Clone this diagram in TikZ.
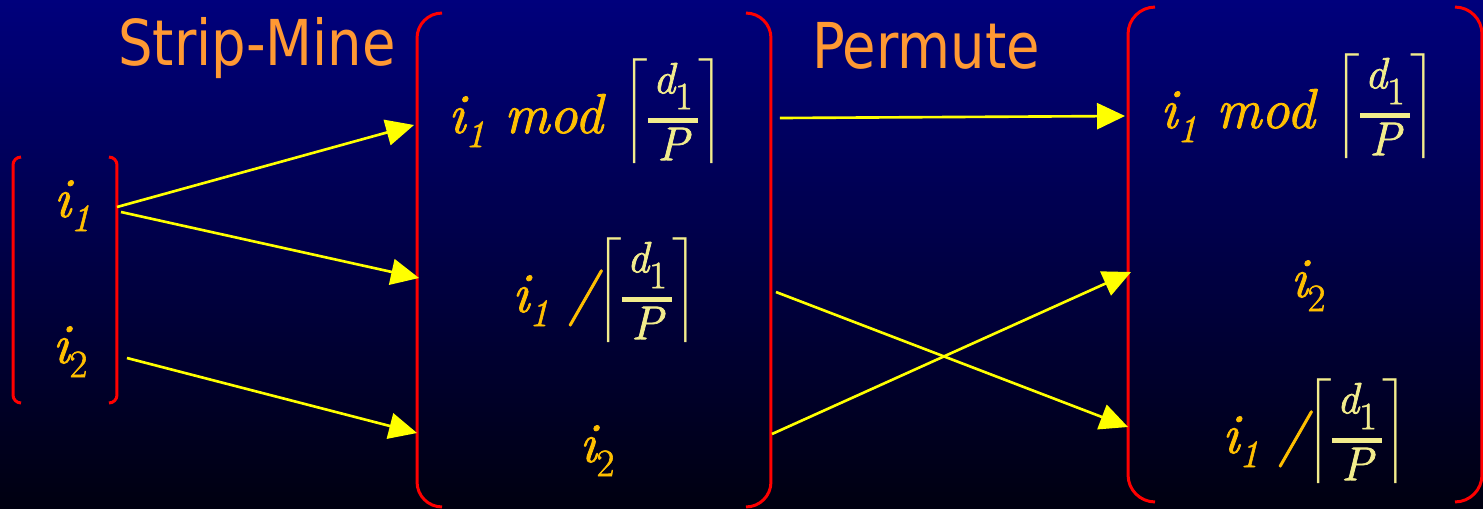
\documentclass[tikz,border=0pt]{standalone}
\usepackage{amsmath}
\usepackage{fontspec}
\newfontfamily\exprfont[FakeBold=1.6]{Latin Modern Roman}
\newfontfamily\titrefont[FakeStretch=0.86]{DejaVu Sans}
\usetikzlibrary{arrows.meta, calc}
\definecolor{fondhaut}{HTML}{00007C}
\definecolor{fondbas}{HTML}{000010}
\definecolor{rouge}{HTML}{FF0000}
\definecolor{jaune}{HTML}{FFFF00}
\definecolor{titreorange}{HTML}{FF9933}
\definecolor{indice}{HTML}{FFBF00}
\definecolor{pale}{HTML}{F2EC8C}
% indice abaisse
\newcommand\bas[1]{\raisebox{-8pt}{\fontsize{22}{22}\selectfont #1}}
% fraction d1/P
\newcommand\fracdp{\vcenter{\offinterlineskip\halign{\hfil\kern3pt##\kern3pt\hfil\cr
  \exprfont\fontsize{25}{25}\selectfont\itshape d\raisebox{-9pt}{\fontsize{22}{22}\selectfont\upshape 1}\cr
  \noalign{\kern5pt\hrule height2.6pt\kern3pt}
  \exprfont\fontsize{27}{27}\selectfont\itshape P\cr}}}
\newcommand\plafond{\raisebox{6pt}{\color{pale}$\left\lceil\fracdp\vcenter{\hbox{\vrule height30pt depth30pt width0pt}}\right\rceil$}}
% crochets d'un cadre
\newcommand\crochets[2]{%
  \draw[cadre] ([xshift=#2]#1.north west) arc[start angle=90, end angle=180, radius=#2]
    -- ([yshift=#2]#1.south west) arc[start angle=180, end angle=270, radius=#2];
  \draw[cadre] ([xshift=-#2]#1.north east) arc[start angle=90, end angle=0, radius=#2]
    -- ([yshift=#2]#1.south east) arc[start angle=0, end angle=-90, radius=#2];}
\tikzset{
  boite/.style={rectangle, inner sep=0pt, outer sep=0pt},
  cadre/.style={draw=rouge, line width=1.7pt},
  fleche/.style={-{Triangle[length=0.56cm, width=0.52cm]}, line width=1.5pt, draw=jaune, fill=jaune},
  titre/.style={font=\titrefont\fontsize{36}{40}\selectfont, text=titreorange, inner sep=0pt, anchor=base},
  expr/.style={font=\exprfont\fontsize{32}{38}\selectfont\itshape, text=indice, inner sep=0pt, anchor=base}
}
\begin{document}
\begin{tikzpicture}[x=0.02cm, y=-0.02cm]
    % Fond
    \shade[top color=fondhaut, bottom color=fondbas] (0,0) rectangle (1483,508);
    \useasboundingbox (0,0) rectangle (1483,508);

    % Titres
    \node[titre] (strip) at (257,65) {Strip-Mine};
    \node[titre] (perm) at (926,68) {Permute};

    % Cadres
    \node[boite, minimum width=2.08cm, minimum height=4.92cm] (gauche) at (65,280) {};
    \node[boite, minimum width=7.08cm, minimum height=9.88cm] (milieu) at (594,260) {};
    \node[boite, minimum width=7.08cm, minimum height=9.9cm] (droite) at (1305,254.5) {};
    \crochets{gauche}{0.16cm}
    \crochets{milieu}{0.5cm}
    \crochets{droite}{0.54cm}

    % Indices
    \node[expr] (gi1) at (72,217) {i\bas{1}};
    \node[expr] (gi2) at (70,363) {i\bas{\upshape 2}};
    \node[expr] (mmod) at (586,133) {i\bas{1} mod \plafond};
    \node[expr] (mdiv) at (605,312) {i\bas{1} /\plafond};
    \node[expr] (mi2) at (597,462) {i\bas{\upshape 2}};
    \node[expr] (dmod) at (1298,128) {i\bas{1} mod \plafond};
    \node[expr] (di2) at (1308,297) {i\bas{\upshape 2}};
    \node[expr] (ddiv) at (1315,453) {i\bas{1} /\plafond};

    % Fleches
    \draw[fleche] (gauche.east |- 0,207) -- ($(milieu.west |- 0,125)+(-3,0)$);
    \draw[fleche] ($(gauche.east |- 0,212)+(4,0)$) -- ($(milieu.west |- 0,278)+(2,0)$);
    \draw[fleche] ($(gauche.east |- 0,358)+(10,0)$) -- (milieu.west |- 0,433);
    \draw[fleche] ($(milieu.east |- 0,118)+(9,0)$) -- ($(droite.west |- 0,116)+(-3,0)$);
    \draw[fleche] ($(milieu.east |- 0,292)+(5,0)$) -- (droite.west |- 0,427);
    \draw[fleche] ($(milieu.east |- 0,434)+(1,0)$) -- ($(droite.west |- 0,272)+(3,0)$);
\end{tikzpicture}
\end{document}
